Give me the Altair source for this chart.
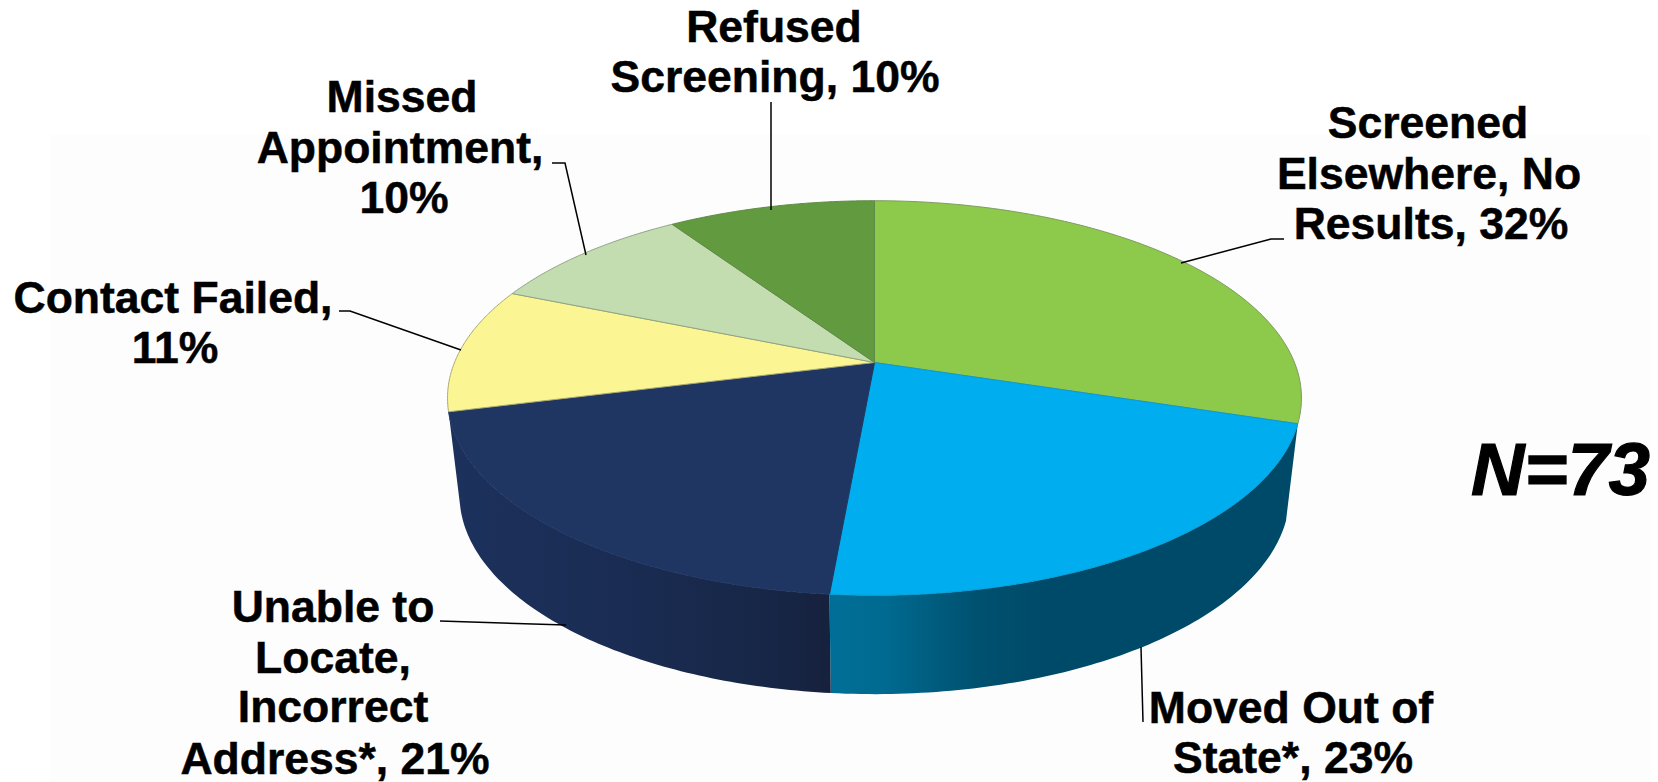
import numpy as np
import pandas as pd
import altair as alt

# ---- chart values -------------------------------------------------------
categories = ["Screened Elsewhere, No Results", "Moved Out of State*",
              "Unable to Locate, Incorrect Address*", "Contact Failed",
              "Missed Appointment", "Refused Screening"]
shares = [32, 23, 21, 11, 10, 10]
top_colors = ["#8DC94A", "#00ADEE", "#1F3663", "#FBF693", "#C3DDB1", "#619A3F"]
edge_colors = ["#7F9C62", "#0A9BD0", "#1F3663", "#A9A86F", "#8FA585", "#5F8A45"]

label_lines = ["Screened", "Elsewhere, No", "Results, 32%",
               "Moved Out of", "State*, 23%",
               "Unable to", "Locate,", "Incorrect", "Address*, 21%",
               "Contact Failed,", "11%",
               "Missed", "Appointment,", "10%",
               "Refused", "Screening, 10%"]
label_x = [1428, 1429, 1431, 1291, 1293, 333, 333, 333, 335, 173, 175, 402, 400, 404, 774, 775]
label_y = [138, 189, 239, 723, 773, 622, 673, 722, 774, 313, 363, 112, 163, 213, 42, 92]

leader_ids = [0, 0, 0, 1, 1, 2, 2, 3, 3, 3, 4, 4, 4, 5, 5]
leader_x = [1284, 1271, 1181, 1143, 1141, 440, 566, 339, 350, 461, 552, 565, 586, 771, 771]
leader_y = [239, 239, 263, 722, 647, 621, 625, 311, 311, 350, 163, 163, 255, 102, 210]

# ---- pie geometry: a circle seen in perspective ---------------------------
CX, CY = 874.5, 362.5
A, B, K = 420.0, 190.9, 0.18
BOTTOM_SX, BOTTOM_SY, BOTTOM_Y = 0.972, 1.01, 459.0
W, H = 1642, 774


def rim(theta):
    x, y = np.sin(theta), np.cos(theta)
    w = 1 + K * y
    return A * x / w, -B * y / w


edges = np.concatenate([[0], np.cumsum(shares)]) / sum(shares) * 2 * np.pi


def top_polygon(i):
    t = np.linspace(edges[i], edges[i + 1], 90)
    u, v = rim(t)
    xs = np.concatenate([[CX], CX + u, [CX]])
    ys = np.concatenate([[CY], CY + v, [CY]])
    return pd.DataFrame({"px": xs, "py": ys, "o": np.arange(len(xs))})


def side_polygon(i):
    t = np.linspace(edges[i], edges[i + 1], 90)
    u, v = rim(t)
    xs = np.concatenate([CX + u, (CX + BOTTOM_SX * u)[::-1], [CX + u[0]]])
    ys = np.concatenate([CY + v, (BOTTOM_Y + BOTTOM_SY * v)[::-1], [CY + v[0]]])
    return pd.DataFrame({"px": xs, "py": ys, "o": np.arange(len(xs))})


x_scale = alt.Scale(domain=[8, 8 + W], range=[0, W], nice=False, zero=False)
y_scale = alt.Scale(domain=[8, 8 + H], range=[0, H], nice=False, zero=False)
X = alt.X("px:Q", scale=x_scale, axis=None)
Y = alt.Y("py:Q", scale=y_scale, axis=None)


def polygon(df, fill, stroke=None, sw=1.0):
    kw = {"fill": fill, "strokeWidth": sw, "stroke": stroke if stroke else "transparent"}
    return alt.Chart(df).mark_line(interpolate="linear", clip=False, **kw).encode(
        x=X, y=Y, order=alt.Order("o:Q"))


def hgrad(stops):
    return alt.LinearGradient(gradient="linear", x1=0, x2=1, y1=0, y2=0,
                              stops=[alt.GradientStop(offset=o, color=c) for o, c in stops])


backdrop = alt.Chart(pd.DataFrame({"px": [50], "px2": [1650], "py": [135], "py2": [782]})).mark_rect(
    fill="#FDFDFD").encode(x=X, x2="px2:Q", y=Y, y2="py2:Q")

layers = [backdrop]
# side walls: Moved Out of State and Unable to Locate are the visible ones
layers.append(polygon(side_polygon(1),
                      hgrad([(0, "#006F97"), (0.12, "#006A90"), (0.32, "#00506F"), (0.45, "#004A69"), (1, "#004A69")])))
layers.append(polygon(side_polygon(2),
                      hgrad([(0, "#1C315C"), (0.45, "#1A2C53"), (0.85, "#172646"), (1, "#16213D")])))
# top faces
for i, c in enumerate(top_colors):
    layers.append(polygon(top_polygon(i), c, edge_colors[i], 1.0))

# leader lines
leaders = pd.DataFrame({"id": leader_ids, "px": leader_x, "py": leader_y, "o": range(len(leader_x))})
layers.append(alt.Chart(leaders).mark_line(color="#000000", strokeWidth=1.5).encode(
    x=X, y=Y, detail="id:N", order=alt.Order("o:Q")))

# labels
labels = pd.DataFrame({"px": label_x, "py": label_y, "t": label_lines})
layers.append(alt.Chart(labels).mark_text(font="Liberation Sans", fontWeight="bold", fontSize=44.5,
                                          align="center", baseline="alphabetic", color="#000000",
                                          stroke="#000000", strokeWidth=0.5).encode(
    x=X, y=Y, text="t:N"))

note = pd.DataFrame({"px": [1471], "py": [495], "t": ["N=73"]})
layers.append(alt.Chart(note).mark_text(font="Liberation Sans", fontWeight="bold", fontStyle="italic",
                                        fontSize=74, align="left", baseline="alphabetic",
                                        color="#000000", stroke="#000000", strokeWidth=1.2).encode(
    x=X, y=Y, text="t:N"))

chart = alt.layer(*layers).properties(
    width=W, height=H, padding=0, background="#FFFFFF",
    autosize=alt.AutoSizeParams(type="none")
).configure_view(stroke=None)

chart.save("out.html", embed_options={"renderer": "svg", "actions": False})
